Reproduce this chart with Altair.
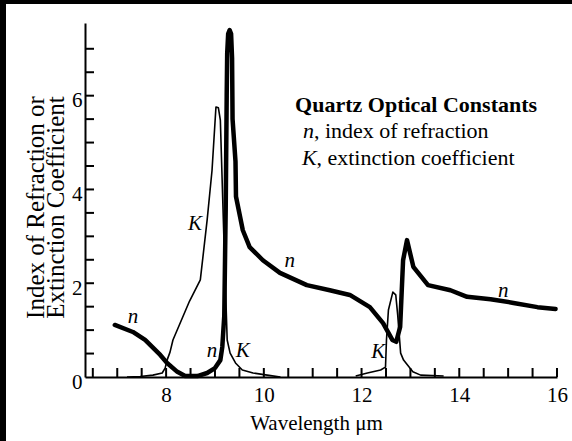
import altair as alt
import pandas as pd

# Index of refraction n versus wavelength (um)
n_wavelength = [6.95, 7.32, 7.57, 7.88, 8.02, 8.23, 8.39, 8.64, 8.84, 9.00, 9.11, 9.15,
                9.19, 9.22, 9.24, 9.25, 9.27, 9.30, 9.33, 9.35, 9.36, 9.42, 9.43, 9.57,
                9.71, 9.98, 10.33, 10.88, 11.35, 11.76, 12.17, 12.44, 12.63, 12.71, 12.79,
                12.85, 12.93, 13.06, 13.36, 13.82, 14.16, 14.64, 15.11, 15.60, 15.97]
n_value = [1.11, 0.96, 0.79, 0.47, 0.30, 0.11, 0.02, 0.02, 0.085, 0.19, 0.36, 0.64,
           1.30, 3.60, 6.00, 6.90, 7.32, 7.40, 7.32, 6.80, 5.50, 4.60, 3.85, 3.13,
           2.77, 2.49, 2.22, 1.96, 1.85, 1.75, 1.49, 1.15, 0.79, 0.75, 1.07,
           2.49, 2.92, 2.35, 1.96, 1.85, 1.71, 1.66, 1.58, 1.49, 1.45]

# Extinction coefficient K, two absorption bands
k_wavelength = [7.20, 7.47, 7.73, 7.92, 7.98, 8.02, 8.08, 8.14, 8.48, 8.70, 8.84, 8.94,
                9.02, 9.07, 9.11, 9.19, 9.25, 9.31, 9.42, 9.56, 9.78, 10.07, 10.34,
                11.88, 12.12, 12.39, 12.49, 12.51, 12.55, 12.64, 12.70, 12.74, 12.80,
                12.86, 13.05, 13.21, 13.68]
k_value = [0.0, 0.01, 0.04, 0.085, 0.19, 0.36, 0.53, 0.79, 1.62, 2.07, 3.35, 4.41,
           5.76, 5.74, 5.48, 2.70, 0.79, 0.51, 0.30, 0.15, 0.085, 0.04, 0.0,
           0.02, 0.085, 0.15, 0.21, 0.79, 1.43, 1.81, 1.75, 1.32, 0.51,
           0.36, 0.11, 0.04, 0.02]
k_band = [1] * 23 + [2] * 14

# Minor tick positions (drawn inside the frame)
x_tick_values = [6.5, 7.0, 7.5, 8.0, 8.5, 9.0, 9.5, 10.0, 10.5, 11.0, 11.5, 12.0,
                 12.5, 13.0, 13.5, 14.0, 14.5, 15.0, 15.5, 16.0]
y_tick_values = [0.5, 1.0, 1.5, 2.0, 2.5, 3.0, 3.5, 4.0, 4.5, 5.0, 5.5, 6.0, 6.5, 7.0]
x_label_values = [8, 10, 12, 14, 16]
y_label_values = [0, 2, 4, 6]

# Curve labels
curve_label_text = ["n", "K", "n", "n", "K", "K", "n"]
curve_label_x = [7.32, 8.59, 10.53, 8.94, 9.57, 12.34, 14.90]
curve_label_y = [1.15, 3.13, 2.35, 0.43, 0.43, 0.41, 1.71]

FONT = "Liberation Serif"
FS = 21
KEY_FS = 22

x_scale = alt.Scale(domain=[6.34, 16], nice=False, zero=False)
y_scale = alt.Scale(domain=[0, 7.55], nice=False, zero=True)

x_axis = alt.Axis(
    values=x_label_values, ticks=False, tickSize=0, grid=False,
    labelFont=FONT, labelFontSize=FS, labelColor="black", labelPadding=7,
    labelFlush=False, labelOverlap=False,
    domainColor="black", domainWidth=2,
    title="Wavelength μm", titleFont=FONT, titleFontSize=FS, titleFontWeight="normal",
    titleColor="black", titleX=231, titleY=52, titleAlign="center",
    titleBaseline="alphabetic",
)
y_axis = alt.Axis(
    values=y_label_values, ticks=False, tickSize=0, grid=False,
    labelFont=FONT, labelFontSize=FS, labelColor="black", labelPadding=3,
    labelFlush=False, labelOverlap=False, labelBaseline="middle", labelOffset=5,
    domainColor="black", domainWidth=2,
    title=["Index of Refraction or", "Extinction Coefficient"],
    titleFont=FONT, titleFontSize=25, titleFontWeight="normal", titleColor="black",
    titleLineHeight=20, titleX=-50, titleY=184, titleAlign="center",
    titleBaseline="middle", titleAngle=270,
)

X = alt.X("wl:Q", scale=x_scale, axis=x_axis)
Y = alt.Y("val:Q", scale=y_scale, axis=y_axis)

n_df = pd.DataFrame({"wl": n_wavelength, "val": n_value, "idx": range(len(n_value))})
k_df = pd.DataFrame({"wl": k_wavelength, "val": k_value, "band": k_band,
                     "idx": range(len(k_value))})

n_line = alt.Chart(n_df).mark_line(
    color="black", strokeWidth=4.5, strokeCap="round", strokeJoin="round"
).encode(x=X, y=Y, order="idx:Q")

k_line = alt.Chart(k_df).mark_line(
    color="black", strokeWidth=1.6, strokeJoin="round"
).encode(x=X, y=Y, detail="band:N", order="idx:Q")

x_ticks = alt.Chart(pd.DataFrame({"wl": x_tick_values})).mark_rule(
    color="black", strokeWidth=2
).encode(x=X, y=alt.value(354), y2=alt.value(345))

y_ticks = alt.Chart(pd.DataFrame({"val": y_tick_values})).mark_rule(
    color="black", strokeWidth=2
).encode(y=Y, x=alt.value(0), x2=alt.value(9))

curve_labels = alt.Chart(pd.DataFrame({
    "wl": curve_label_x, "val": curve_label_y, "txt": curve_label_text
})).mark_text(
    font=FONT, fontSize=FS, fontStyle="italic", color="black",
    align="center", baseline="alphabetic"
).encode(x=X, y=Y, text="txt:N")

# Key block in the upper right
key_title = alt.Chart(pd.DataFrame({"wl": [10.64], "val": [5.65],
                                    "txt": ["Quartz Optical Constants"]})).mark_text(
    font=FONT, fontSize=KEY_FS, fontWeight="bold", color="black",
    align="left", baseline="alphabetic"
).encode(x=X, y=Y, text="txt:N")

key_sym = alt.Chart(pd.DataFrame({"wl": [10.80, 10.78], "val": [5.10, 4.52],
                                  "txt": ["n", "K"]})).mark_text(
    font=FONT, fontSize=KEY_FS, fontStyle="italic", color="black",
    align="left", baseline="alphabetic"
).encode(x=X, y=Y, text="txt:N")

key_n = alt.Chart(pd.DataFrame({"wl": [10.80], "val": [5.10],
                                "txt": [", index of refraction"]})).mark_text(
    font=FONT, fontSize=KEY_FS, color="black", align="left", baseline="alphabetic", dx=11
).encode(x=X, y=Y, text="txt:N")

key_k = alt.Chart(pd.DataFrame({"wl": [10.78], "val": [4.52],
                                "txt": [", extinction coefficient"]})).mark_text(
    font=FONT, fontSize=KEY_FS, color="black", align="left", baseline="alphabetic", dx=14.5
).encode(x=X, y=Y, text="txt:N")

# Dark frame strips along the top and left edges of the figure
frame = pd.DataFrame({"k": [0]})
left_strip = alt.Chart(frame).mark_rect(color="black").encode(
    x=alt.value(-85), x2=alt.value(-79), y=alt.value(-23), y2=alt.value(418))
top_strip = alt.Chart(frame).mark_rect(color="black").encode(
    x=alt.value(-85), x2=alt.value(487), y=alt.value(-23), y2=alt.value(-19))

chart = alt.layer(
    x_ticks, y_ticks, k_line, n_line, curve_labels,
    key_title, key_sym, key_n, key_k, left_strip, top_strip
).properties(
    width=472, height=354,
    autosize=alt.AutoSizeParams(type="none"),
    padding={"left": 85, "top": 23, "right": 15, "bottom": 64},
    background="white",
).configure_view(stroke=None)

chart.save("out.html", embed_options={"renderer": "svg", "actions": False})
